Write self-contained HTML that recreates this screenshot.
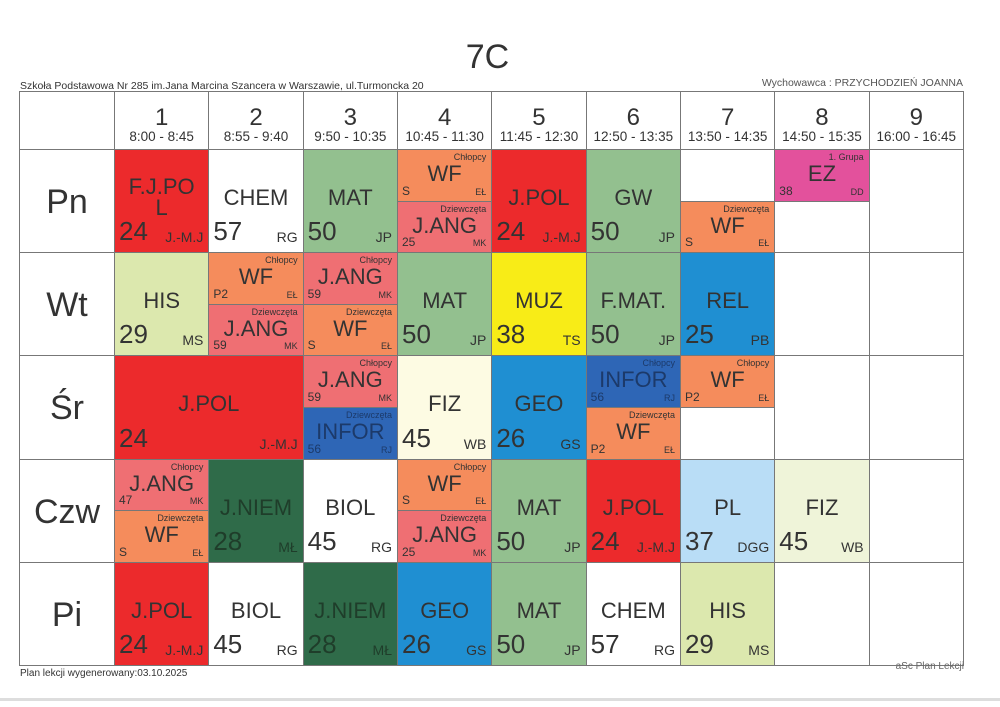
<!DOCTYPE html>
<html><head><meta charset="utf-8">
<style>
body{margin:0;width:1000px;height:707px;background:#fff;position:relative;overflow:hidden;font-family:"Liberation Sans",sans-serif;color:#333}
.abs{position:absolute}
.cell{position:absolute;box-sizing:border-box;border:1px solid #777;overflow:hidden}
.subj{position:absolute;left:0;right:0;text-align:center;line-height:1}
.room{position:absolute;left:4px;line-height:1}
.tch{position:absolute;right:5px;line-height:1}
.grp{position:absolute;right:5px;top:3px;font-size:9px;line-height:1}
</style></head><body>
<div class="abs" style="left:0;width:975px;top:38px;text-align:center;font-size:34px;">7C</div>
<div class="abs" style="left:20px;top:80px;font-size:10.5px;">Szkoła Podstawowa Nr 285 im.Jana Marcina Szancera w Warszawie, ul.Turmoncka 20</div>
<div class="abs" style="right:37px;top:77px;font-size:10.5px;color:#555">Wychowawca : PRZYCHODZIEŃ JOANNA</div>
<div class="abs" style="left:20px;top:668px;font-size:10px;">Plan lekcji wygenerowany:03.10.2025</div>
<div class="abs" style="left:0;right:0;top:698px;height:3px;background:#ddd"></div>
<div id="grid"></div>
<div class="abs" style="right:36px;top:661px;font-size:10px;color:#666;z-index:5">aSc Plan Lekcji</div>
<script>
const periods=["1","2","3","4","5","6","7","8","9"];
const times=["8:00 - 8:45","8:55 - 9:40","9:50 - 10:35","10:45 - 11:30","11:45 - 12:30","12:50 - 13:35","13:50 - 14:35","14:50 - 15:35","16:00 - 16:45"];
const days=["Pn","Wt","Śr","Czw","Pi"];
const C={red:"#ec2a2c",grn:"#93c08f",org:"#f58c5c",pnk:"#ef6f73",lgr:"#dce8ae",yel:"#f8ec17",blu:"#1f8fd2",dbl:"#2e66b6",dgr:"#2f6b49",crm:"#fdfbe3",lbl:"#b9ddf6",pal:"#eff4d9",mag:"#e3519c",wht:"#ffffff"};
// [day, period(0-based), span, half(0 full,1 top,2 bottom), subject, room, teacher, group, color]
const lessons=[
[0,0,1,0,"F.J.PO<br>L","24","J.-M.J","","red"],[0,1,1,0,"CHEM","57","RG","","wht"],[0,2,1,0,"MAT","50","JP","","grn"],
[0,3,1,1,"WF","S","EŁ","Chłopcy","org"],[0,3,1,2,"J.ANG","25","MK","Dziewczęta","pnk"],[0,4,1,0,"J.POL","24","J.-M.J","","red"],
[0,5,1,0,"GW","50","JP","","grn"],[0,6,1,2,"WF","S","EŁ","Dziewczęta","org"],[0,7,1,1,"EZ","38","DD","1. Grupa","mag"],
[1,0,1,0,"HIS","29","MS","","lgr"],[1,1,1,1,"WF","P2","EŁ","Chłopcy","org"],[1,1,1,2,"J.ANG","59","MK","Dziewczęta","pnk"],
[1,2,1,1,"J.ANG","59","MK","Chłopcy","pnk"],[1,2,1,2,"WF","S","EŁ","Dziewczęta","org"],[1,3,1,0,"MAT","50","JP","","grn"],
[1,4,1,0,"MUZ","38","TS","","yel"],[1,5,1,0,"F.MAT.","50","JP","","grn"],[1,6,1,0,"REL","25","PB","","blu"],
[2,0,2,0,"J.POL","24","J.-M.J","","red"],[2,2,1,1,"J.ANG","59","MK","Chłopcy","pnk"],[2,2,1,2,"INFOR","56","RJ","Dziewczęta","dbl"],
[2,3,1,0,"FIZ","45","WB","","crm"],[2,4,1,0,"GEO","26","GS","","blu"],[2,5,1,1,"INFOR","56","RJ","Chłopcy","dbl"],
[2,5,1,2,"WF","P2","EŁ","Dziewczęta","org"],[2,6,1,1,"WF","P2","EŁ","Chłopcy","org"],
[3,0,1,1,"J.ANG","47","MK","Chłopcy","pnk"],[3,0,1,2,"WF","S","EŁ","Dziewczęta","org"],[3,1,1,0,"J.NIEM","28","MŁ","","dgr"],
[3,2,1,0,"BIOL","45","RG","","wht"],[3,3,1,1,"WF","S","EŁ","Chłopcy","org"],[3,3,1,2,"J.ANG","25","MK","Dziewczęta","pnk"],
[3,4,1,0,"MAT","50","JP","","grn"],[3,5,1,0,"J.POL","24","J.-M.J","","red"],[3,6,1,0,"PL","37","DGG","","lbl"],[3,7,1,0,"FIZ","45","WB","","pal"],
[4,0,1,0,"J.POL","24","J.-M.J","","red"],[4,1,1,0,"BIOL","45","RG","","wht"],[4,2,1,0,"J.NIEM","28","MŁ","","dgr"],
[4,3,1,0,"GEO","26","GS","","blu"],[4,4,1,0,"MAT","50","JP","","grn"],[4,5,1,0,"CHEM","57","RG","","wht"],[4,6,1,0,"HIS","29","MS","","lgr"]
];
const L=19,DW=95,X0=114,CW=94.33,T=91,HH=58,RH=103.2;
const g=document.getElementById('grid');
function x(p){return X0+p*CW}
function y(d){return T+HH+d*RH}
function mk(l,t,w,h,bg){const e=document.createElement('div');e.className='cell';e.style.cssText+=`left:${l}px;top:${t}px;width:${w+1}px;height:${h+1}px;background:${bg}`;g.appendChild(e);return e}
let c=mk(L,T,DW,HH,'#fff');


periods.forEach((p,i)=>{const e=mk(x(i),T,CW,HH,'#fff');


e.innerHTML=`<div class="subj" style="top:14px;font-size:24px">${p}</div><div class="subj" style="top:38px;font-size:13.5px">${times[i]}</div>`;});
days.forEach((d,j)=>{const e=mk(L,y(j),DW,RH,'#fff');


e.innerHTML=`<div class="subj" style="top:35px;font-size:34px">${d}</div>`;
periods.forEach((p,i)=>{const b=mk(x(i),y(j),CW,RH,'#fff');

});});
lessons.forEach(s=>{const [d,p,sp,h,sub,room,tch,grp,col]=s;
const hh=h?RH/2:RH;const top=y(d)+(h===2?RH/2:0);
const e=mk(x(p),top,CW*sp,hh,C[col]);


const fc=col==='dgr'?'#1f3d2a':(col==='dbl'?'#1c3a6a':'#333');
e.style.color=fc;
if(h){e.innerHTML=`<div class="grp">${grp}</div><div class="subj" style="top:13px;font-size:22px">${sub}</div><div class="room" style="bottom:4px;font-size:12px">${room}</div><div class="tch" style="bottom:4px;font-size:9px">${tch}</div>`;}
else{const two=sub.includes('<br>');
e.innerHTML=`<div class="subj" style="top:${two?27:37}px;font-size:22px;line-height:${two?0.95:1}">${sub}</div><div class="room" style="bottom:8px;font-size:26px">${room}</div><div class="tch" style="bottom:8px;font-size:14px">${tch}</div>`;}
});
</script>
</body></html>
